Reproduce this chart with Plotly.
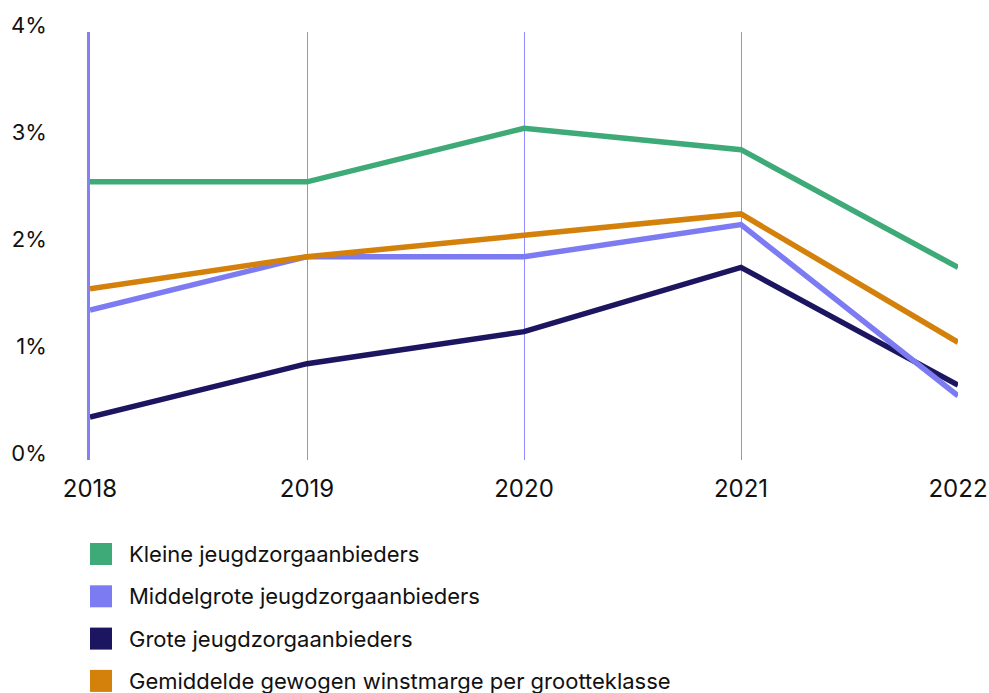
import plotly.graph_objects as go

# Winstmarge per grootteklasse jeugdzorgaanbieders, 2018-2022 (in %)
years = [2018, 2019, 2020, 2021, 2022]
kleine = [2.6, 2.6, 3.1, 2.9, 1.8]
middelgrote = [1.4, 1.9, 1.9, 2.2, 0.6]
grote = [0.4, 0.9, 1.2, 1.8, 0.7]
gemiddeld = [1.6, 1.9, 2.1, 2.3, 1.1]

series_names = [
    "Kleine jeugdzorgaanbieders",
    "Middelgrote jeugdzorgaanbieders",
    "Grote jeugdzorgaanbieders",
    "Gemiddelde gewogen winstmarge per grootteklasse",
]
series_values = [kleine, middelgrote, grote, gemiddeld]
series_colors = ["#3daa77", "#7d7bf2", "#1c1560", "#d4810b"]

y_ticks = [0, 1, 2, 3, 4]
y_ticktext = [f"{v}%" for v in y_ticks]
x_ticktext = [str(y) for y in years]

FONT = "Inter, Liberation Sans, Arial, sans-serif"
TEXT = "#111111"

W, H = 989, 693
L, R, T, B = 90, 31, 32, 233
plot_w = W - L - R
plot_h = H - T - B


def px_x(px):
    return (px - L) / plot_w


def px_y(py):
    return (H - B - py) / plot_h


fig = go.Figure()

draw_order = [0, 2, 1, 3]
for i in draw_order:
    fig.add_trace(go.Scatter(
        x=years,
        y=series_values[i],
        name=series_names[i],
        mode="lines",
        line=dict(color=series_colors[i], width=5.5),
        showlegend=False,
        hoverinfo="x+y+name",
    ))

# Legend drawn below the chart: colour square plus label per series
shapes = []
annotations = []
row_top = 543
row_step = 42.3
sq = 22
for i, name in enumerate(series_names):
    top = row_top + i * row_step
    shapes.append(dict(
        type="rect", xref="paper", yref="paper",
        x0=px_x(90), x1=px_x(90 + sq),
        y0=px_y(top + sq), y1=px_y(top),
        fillcolor=series_colors[i], line=dict(width=0), layer="above",
    ))
    annotations.append(dict(
        xref="paper", yref="paper",
        x=px_x(127), y=px_y(top + sq / 2),
        xanchor="left", yanchor="middle",
        text=name, showarrow=False,
        font=dict(family=FONT, size=22, color=TEXT),
    ))

fig.update_layout(
    width=W, height=H,
    margin=dict(l=L, r=R, t=T, b=B, pad=0, autoexpand=False),
    paper_bgcolor="white",
    plot_bgcolor="white",
    font=dict(family=FONT, size=22, color=TEXT),
    shapes=shapes,
    annotations=annotations,
    showlegend=False,
    xaxis=dict(
        range=[years[0], years[-1]],
        tickmode="array",
        tickvals=years,
        ticktext=x_ticktext,
        showgrid=True,
        gridcolor="#8f8cff",
        gridwidth=1,
        zeroline=False,
        showline=False,
        ticks="",
        automargin=False,
        ticklabelstandoff=12,
        tickfont=dict(family=FONT, size=24, color=TEXT),
    ),
    yaxis=dict(
        range=[0, 4],
        tickmode="array",
        tickvals=y_ticks,
        ticktext=y_ticktext,
        showgrid=False,
        zeroline=False,
        showline=True,
        linecolor="#8482f3",
        linewidth=2.5,
        ticks="",
        automargin=False,
        ticklabelstandoff=36,
        ticklabelshift=-7,
        tickfont=dict(family=FONT, size=22, color=TEXT),
    ),
)

fig.write_html("out.html")
